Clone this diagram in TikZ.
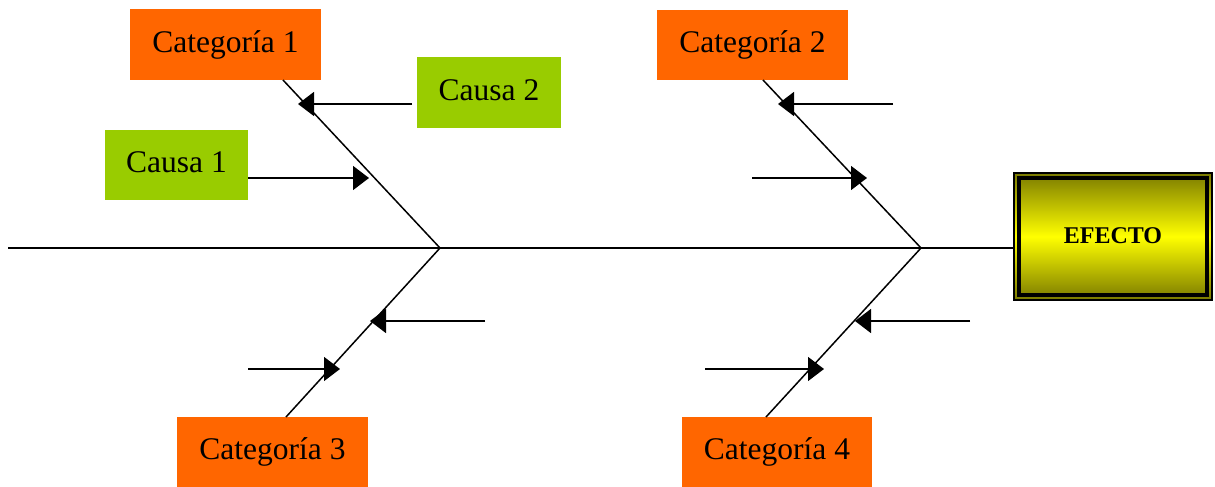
\documentclass[tikz,border=0pt]{standalone}
\usepackage{fontspec}
\setmainfont{Liberation Serif}
\usetikzlibrary{arrows.meta,calc}
\definecolor{catorange}{HTML}{FF6600}
\definecolor{causegreen}{HTML}{99CC00}
\definecolor{efolive}{HTML}{7A7A00}
\newcommand{\liftup}[1]{\raisebox{5pt}{#1}}
\begin{document}
\begin{tikzpicture}[x=1pt,y=-1pt,
  catbox/.style={fill=catorange,minimum width=191pt,minimum height=70pt,inner sep=0pt,font=\fontsize{31.5}{36}\selectfont},
  causebox/.style={fill=causegreen,minimum width=143pt,minimum height=70pt,inner sep=0pt,font=\fontsize{31.5}{36}\selectfont},
  bone/.style={line width=1.5pt},
  causearrow/.style={line width=1.5pt,-{Triangle[length=16pt,width=24pt]}}]
\useasboundingbox (0,0) rectangle (1215,487);
% boxes
\node[catbox] (cat1) at (225.5,44.5) {\liftup{Categoría 1}};
\node[causebox,minimum width=144pt] (cau2) at (489,92.5) {\liftup{Causa 2}};
\node[causebox] (cau1) at (176.5,165) {\liftup{Causa 1}};
\node[catbox] (cat2) at (752.5,45) {\liftup{Categoría 2}};
\node[catbox] (cat3) at (272.5,452) {\liftup{Categoría 3}};
\node[catbox,minimum width=190pt] (cat4) at (777,452) {\liftup{Categoría 4}};
\node[draw=black,line width=1.2pt,minimum width=198pt,minimum height=127pt,inner sep=0pt,
  top color=efolive,bottom color=efolive,middle color=yellow,
  font=\bfseries\fontsize{24}{28}\selectfont] (ef) at (1113,236.5) {\raisebox{1pt}{EFECTO}};
\draw[line width=4pt] ([shift={(6pt,-6pt)}]ef.north west) rectangle ([shift={(-6pt,6pt)}]ef.south east);
% spine
\coordinate (s0) at (8,248);
\coordinate (j1) at (440,248);
\coordinate (j2) at (921,248);
\draw[bone] (s0) -- (s0 -| ef.west);
% bones
\coordinate (b1) at (283,80);
\coordinate (b2) at (763,80);
\coordinate (b3) at (286,417);
\coordinate (b4) at (766,417);
\draw[bone] (b1) -- (j1);
\draw[bone] (b2) -- (j2);
\draw[bone] (b3) -- (j1);
\draw[bone] (b4) -- (j2);
% cause arrows
\coordinate (a1s) at (412,104);  \coordinate (a1e) at (298,104);
\coordinate (a2e) at (369,178);
\coordinate (a3s) at (893,104);  \coordinate (a3e) at (778,104);
\coordinate (a4s) at (752,178);  \coordinate (a4e) at (867,178);
\coordinate (a5s) at (485,321);  \coordinate (a5e) at (370,321);
\coordinate (a6s) at (248,369);  \coordinate (a6e) at (340,369);
\coordinate (a7s) at (970,321);  \coordinate (a7e) at (855,321);
\coordinate (a8s) at (705,369);  \coordinate (a8e) at (824,369);
\draw[causearrow] (a1s) -- (a1e);
\draw[causearrow] (cau1.east |- a2e) -- (a2e);
\draw[causearrow] (a3s) -- (a3e);
\draw[causearrow] (a4s) -- (a4e);
\draw[causearrow] (a5s) -- (a5e);
\draw[causearrow] (a6s) -- (a6e);
\draw[causearrow] (a7s) -- (a7e);
\draw[causearrow] (a8s) -- (a8e);
\end{tikzpicture}
\end{document}
